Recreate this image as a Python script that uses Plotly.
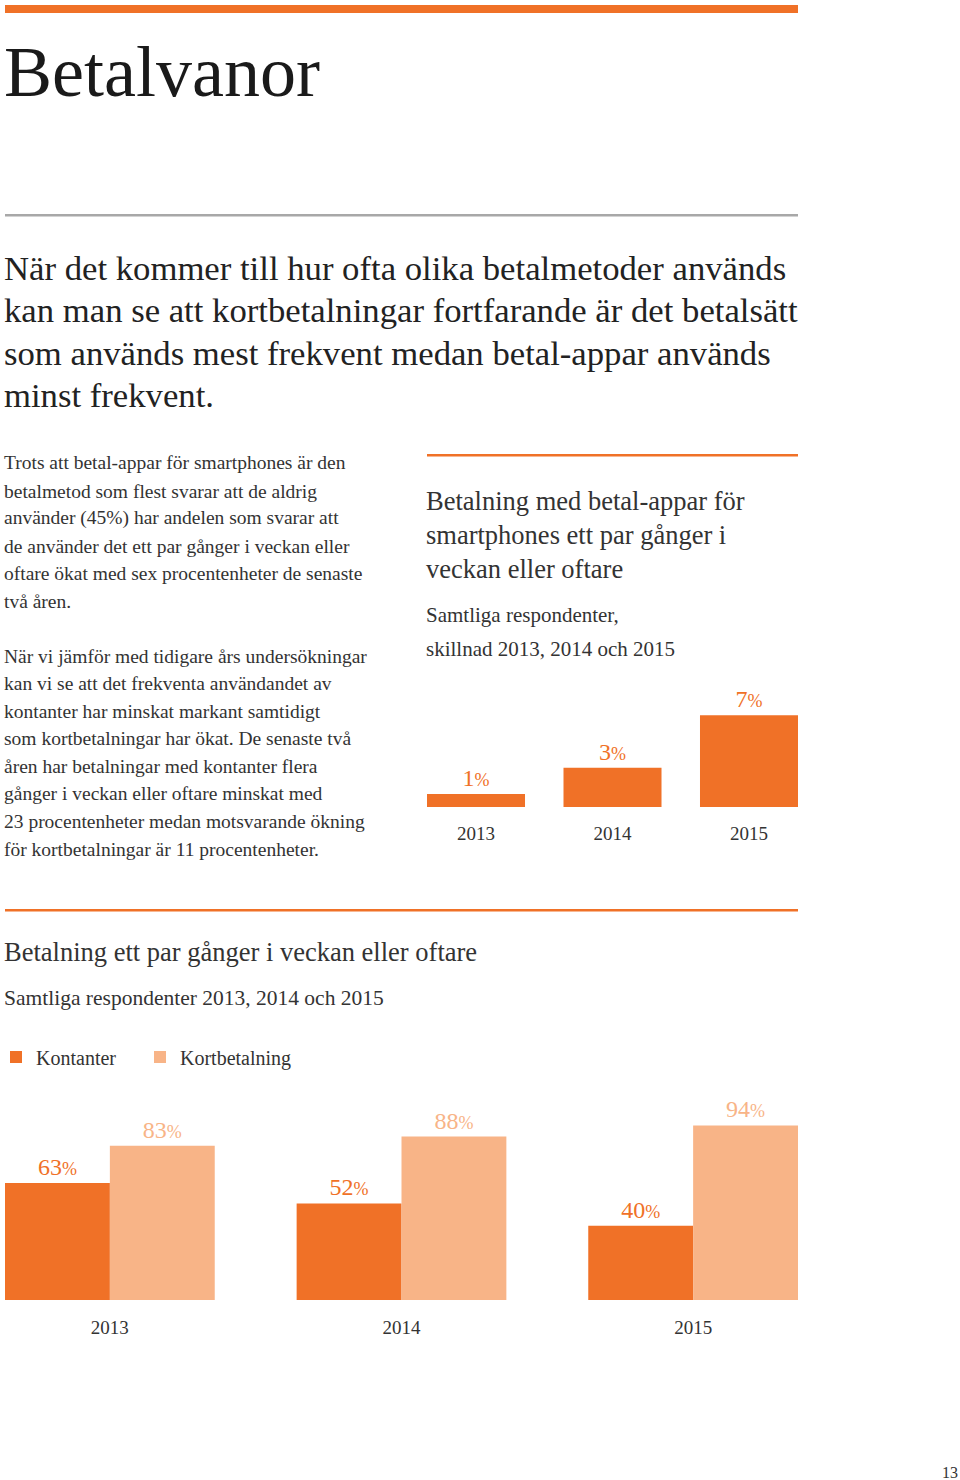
import plotly.graph_objects as go

W, H = 960, 1480
ORANGE = "#F07127"
LIGHT = "#F8B487"
FONT = "Liberation Serif"
DARK = "#1a1a1a"
TXT = "#333333"

# ---- data ----
years = ["2013", "2014", "2015"]
app_share = [1, 3, 7]            # betal-appar, ett par gånger i veckan eller oftare
kontanter = [63, 52, 40]
kortbetalning = [83, 88, 94]

title = "Betalvanor"
intro_lines = [
    "När det kommer till hur ofta olika betalmetoder används",
    "kan man se att kortbetalningar fortfarande är det betalsätt",
    "som används mest frekvent medan betal-appar används",
    "minst frekvent.",
]
body_lines = [
    "Trots att betal-appar för smartphones är den",
    "betalmetod som flest svarar att de aldrig",
    "använder (45%) har andelen som svarar att",
    "de använder det ett par gånger i veckan eller",
    "oftare ökat med sex procentenheter de senaste",
    "två åren.",
    "När vi jämför med tidigare års undersökningar",
    "kan vi se att det frekventa användandet av",
    "kontanter har minskat markant samtidigt",
    "som kortbetalningar har ökat. De senaste två",
    "åren har betalningar med kontanter flera",
    "gånger i veckan eller oftare minskat med",
    "23 procentenheter medan motsvarande ökning",
    "för kortbetalningar är 11 procentenheter.",
]
chart1_title = ["Betalning med betal-appar för", "smartphones ett par gånger i", "veckan eller oftare"]
chart1_sub = ["Samtliga respondenter,", "skillnad 2013, 2014 och 2015"]
chart2_title = "Betalning ett par gånger i veckan eller oftare"
chart2_sub = "Samtliga respondenter 2013, 2014 och 2015"
page_no = "13"


def px(x):
    return x / W


def py(y):
    return 1 - y / H


def pct(vals, size):
    return [f"{v}<span style='font-size:{size}px'>%</span>" for v in vals]


fig = go.Figure()

fig.add_trace(go.Bar(
    x=years, y=app_share, xaxis="x", yaxis="y",
    marker=dict(color=ORANGE, line=dict(width=0)),
    width=0.718, text=pct(app_share, 18), textposition="outside",
    textfont=dict(color=ORANGE, size=24, family=FONT),
    cliponaxis=False, showlegend=False, hoverinfo="skip",
))
fig.add_trace(go.Bar(
    x=years, y=kontanter, name="Kontanter", xaxis="x2", yaxis="y2",
    marker=dict(color=ORANGE, line=dict(width=0)),
    width=0.3596, offset=-0.3596, text=pct(kontanter, 18), textposition="outside",
    textfont=dict(color=ORANGE, size=24, family=FONT),
    cliponaxis=False, hoverinfo="skip", legend="legend",
))
fig.add_trace(go.Bar(
    x=years, y=kortbetalning, name="Kortbetalning", xaxis="x2", yaxis="y2",
    marker=dict(color=LIGHT, line=dict(width=0)),
    width=0.3596, offset=0, text=pct(kortbetalning, 18), textposition="outside",
    textfont=dict(color=LIGHT, size=24, family=FONT),
    cliponaxis=False, hoverinfo="skip", legend="legend2",
))

axis_common = dict(showgrid=False, zeroline=False, showline=False, fixedrange=True)
legend_common = dict(orientation="h", y=py(1057), xanchor="left", yanchor="middle",
                     font=dict(size=20, color=TXT, family=FONT), itemclick=False,
                     itemdoubleclick=False, bgcolor="rgba(0,0,0,0)")

fig.update_layout(
    width=W, height=H, margin=dict(l=0, r=0, t=0, b=0, autoexpand=False),
    paper_bgcolor="white", plot_bgcolor="white",
    barmode="overlay",
    font=dict(family=FONT, color=TXT),
    xaxis=dict(domain=[px(427), px(798)], range=[-0.359, 2.359], anchor="y",
               ticks="outside", ticklen=9, tickcolor="rgba(0,0,0,0)",
               tickfont=dict(size=19, color=TXT, family=FONT), **axis_common),
    yaxis=dict(domain=[py(807), py(676)], range=[0, 10], visible=False, anchor="x", **axis_common),
    xaxis2=dict(domain=[px(5), px(798)], range=[-0.3596, 2.3596], anchor="y2",
                ticks="outside", ticklen=10, tickcolor="rgba(0,0,0,0)",
                tickfont=dict(size=19, color=TXT, family=FONT), **axis_common),
    yaxis2=dict(domain=[py(1300), py(1114.3)], range=[0, 100], visible=False, anchor="x2", **axis_common),
    legend=dict(x=px(-4), **legend_common),
    legend2=dict(x=px(140), **legend_common),
    showlegend=True,
)

shapes = [
    dict(type="rect", xref="paper", yref="paper", x0=px(5), x1=px(798), y0=py(5), y1=py(13),
         fillcolor=ORANGE, line=dict(width=0)),
    dict(type="rect", xref="paper", yref="paper", x0=px(5), x1=px(798), y0=py(214), y1=py(216.5),
         fillcolor="#a8a8a8", line=dict(width=0)),
    dict(type="rect", xref="paper", yref="paper", x0=px(427), x1=px(798), y0=py(454), y1=py(456.5),
         fillcolor=ORANGE, line=dict(width=0)),
    dict(type="rect", xref="paper", yref="paper", x0=px(5), x1=px(798), y0=py(909), y1=py(911.5),
         fillcolor=ORANGE, line=dict(width=0)),
]
fig.update_layout(shapes=shapes)

ann = []


def add_text(text, x, y, size, color=TXT, xanchor="left"):
    ann.append(dict(text=text, x=px(x), y=py(y), xref="paper", yref="paper",
                    xanchor=xanchor, yanchor="middle", showarrow=False,
                    font=dict(size=size, color=color, family=FONT)))


add_text(title, 2, 72, 72, DARK)
for i, line in enumerate(intro_lines):
    add_text(line, 2, 268 + i * 42.6, 34.7, "#222222")
body_y = [463, 491, 518, 546, 573, 601, 656, 683, 711, 738, 766, 793, 821, 849]
for line, y in zip(body_lines, body_y):
    add_text(line, 2, y, 19.5, TXT)
for i, line in enumerate(chart1_title):
    add_text(line, 424, 501 + i * 34, 26.5, TXT)
for i, line in enumerate(chart1_sub):
    add_text(line, 424, 615 + i * 34, 21, TXT)
add_text(chart2_title, 2, 952, 26.5, TXT)
add_text(chart2_sub, 2, 998, 21.5, TXT)
add_text(page_no, 950, 1472, 16, TXT, xanchor="center")

fig.update_layout(annotations=ann)

fig.write_html("out.html")
